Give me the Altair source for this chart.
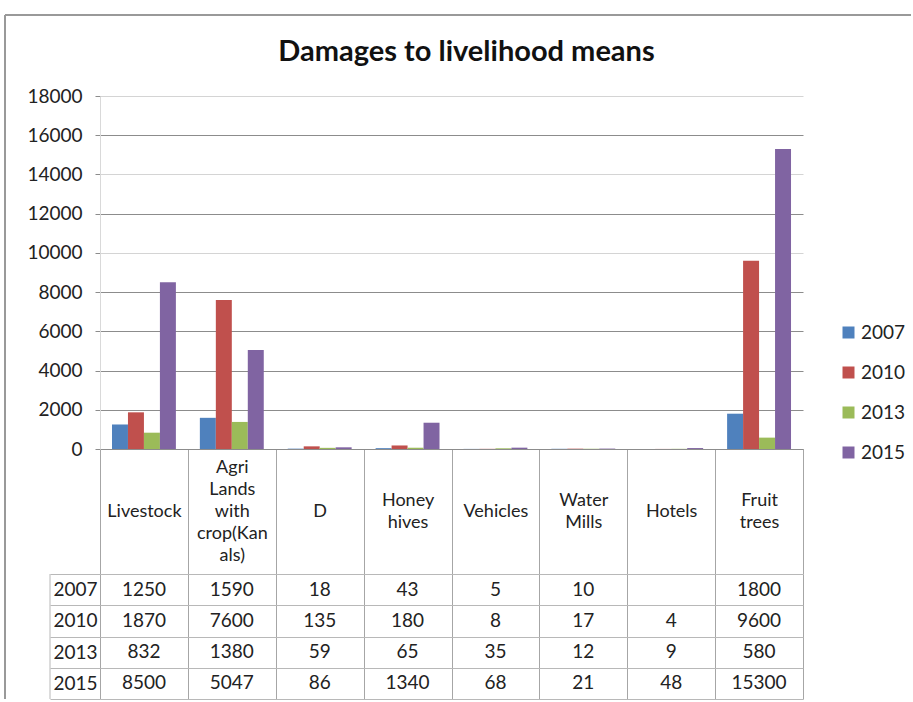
import altair as alt
import pandas as pd

# Damaged livelihood assets per category and survey year
categories = [
    "Livestock",
    "Agri\nLands\nwith\ncrop(Kan\nals)",
    "D",
    "Honey\nhives",
    "Vehicles",
    "Water\nMills",
    "Hotels",
    "Fruit\ntrees",
]
years = ["2007", "2010", "2013", "2015"]
damages_2007 = [1250, 1590, 18, 43, 5, 10, None, 1800]
damages_2010 = [1870, 7600, 135, 180, 8, 17, 4, 9600]
damages_2013 = [832, 1380, 59, 65, 35, 12, 9, 580]
damages_2015 = [8500, 5047, 86, 1340, 68, 21, 48, 15300]
year_colors = ["#4F81BD", "#C0504D", "#9BBB59", "#8064A2"]
y_ticks = list(range(0, 18001, 2000))

series = dict(zip(years, [damages_2007, damages_2010, damages_2013, damages_2015]))
rows = []
for year, vals in series.items():
    for cat, v in zip(categories, vals):
        if v is not None:
            rows.append({"category": cat, "year": year, "value": v, "label": str(v)})
df = pd.DataFrame(rows)

FONT = "Lato"
TEXT = "#222222"
GRID = "#8c8c8c"
LINE = "#a6a6a6"
PLOT_W, PLOT_H = 703, 353
HEADER_H, TABLE_H = 125, 125
LINE_H = 22

# Header labels are centred in the header cell: the first line of an
# n-line label sits (n - 1) / 2 line heights above the cell's middle.
n_lines = "length(split(datum.value, '\\n'))"
header_padding = {
    "condition": [
        {"test": f"{n_lines} == {n}", "value": -HEADER_H / 2 - (n - 1) * LINE_H / 2}
        for n in (2, 3, 4, 5)
    ],
    "value": -HEADER_H / 2,
}

x_band = alt.Scale(domain=categories, paddingInner=0, paddingOuter=0)

bars = (
    alt.Chart(df)
    .mark_bar()
    .encode(
        x=alt.X(
            "category:N",
            sort=categories,
            scale=x_band,
            axis=alt.Axis(
                title=None,
                grid=False,
                domain=True,
                domainColor=GRID,
                ticks=True,
                tickBand="extent",
                tickSize=HEADER_H,
                tickColor=LINE,
                labelExpr="split(datum.label, '\\n')",
                labelPadding=header_padding,
                labelBaseline="middle",
                labelLineHeight=LINE_H,
                labelAngle=0,
                labelOverlap=False,
                labelFont=FONT,
                labelFontSize=18,
                labelColor=TEXT,
            ),
        ),
        xOffset=alt.XOffset(
            "year:N", sort=years, scale=alt.Scale(paddingInner=0, paddingOuter=0.75)
        ),
        y=alt.Y(
            "value:Q",
            scale=alt.Scale(domain=[0, 18000], nice=False),
            axis=alt.Axis(
                title=None,
                values=y_ticks,
                format="d",
                labelFont=FONT,
                labelFontSize=19,
                labelColor=TEXT,
                labelPadding=13,
                labelOverlap=False,
                tickSize=5,
                tickColor=GRID,
                domain=True,
                domainColor="#d9d9d9",
                grid=True,
                gridColor={
                    "condition": {
                        "test": "datum.value == 18000 || datum.value == 14000 || datum.value == 10000",
                        "value": "#d4d4d4",
                    },
                    "value": GRID,
                },
            ),
        ),
        color=alt.Color(
            "year:N",
            scale=alt.Scale(domain=years, range=year_colors),
            legend=alt.Legend(
                title=None,
                orient="none",
                legendX=739,
                legendY=227,
                symbolType="square",
                symbolSize=144,
                symbolStrokeWidth=0,
                labelFont=FONT,
                labelFontSize=19,
                labelColor=TEXT,
                labelOffset=3,
                rowPadding=20,
            ),
        ),
    )
    .properties(
        width=PLOT_W,
        height=PLOT_H,
        title=alt.Title(
            "Damages to livelihood means",
            font=FONT,
            fontSize=29,
            fontWeight="bold",
            color="#111111",
            anchor="middle",
            frame="group",
            dx=15,
            offset=20,
        ),
    )
)

# Data table under the bars: one row per year, one column per category
cells = (
    alt.Chart(df)
    .mark_text(font=FONT, fontSize=19, color=TEXT)
    .encode(
        x=alt.X(
            "category:N",
            sort=categories,
            scale=x_band,
            axis=alt.Axis(
                title=None,
                labels=False,
                ticks=False,
                domain=False,
                grid=True,
                tickBand="extent",
                gridColor=LINE,
            ),
        ),
        y=alt.Y(
            "year:N",
            sort=years,
            scale=alt.Scale(domain=years, paddingInner=0, paddingOuter=0),
            axis=alt.Axis(
                title=None,
                domain=False,
                grid=True,
                tickBand="extent",
                gridColor="#b8b8b8",
                ticks=True,
                tickSize=50,
                tickColor="#b8b8b8",
                labelAlign="left",
                labelPadding=-3,
                labelFont=FONT,
                labelFontSize=19,
                labelColor=TEXT,
            ),
        ),
        text="label:N",
    )
)

one = pd.DataFrame({"k": [0]})
table_left = alt.Chart(one).mark_rule(color="#b8b8b8", strokeWidth=1).encode(
    x=alt.value(-50), y=alt.value(0), y2=alt.value(TABLE_H)
)
frame_top = alt.Chart(one).mark_rule(color="#999999", strokeWidth=2).encode(
    x=alt.value(-95), x2=alt.value(811), y=alt.value(-559)
)
frame_left = alt.Chart(one).mark_rule(color="#999999", strokeWidth=2).encode(
    x=alt.value(-95), y=alt.value(-559), y2=alt.value(TABLE_H)
)

table = alt.layer(cells, table_left, frame_top, frame_left).properties(
    width=PLOT_W, height=TABLE_H
)

chart = (
    alt.vconcat(bars, table, spacing=HEADER_H, bounds="flush")
    .properties(padding={"left": 4, "top": 14, "right": 0, "bottom": 0})
    .configure_view(strokeWidth=0)
)

chart.save("out.html", embed_options={"renderer": "svg", "actions": False})
